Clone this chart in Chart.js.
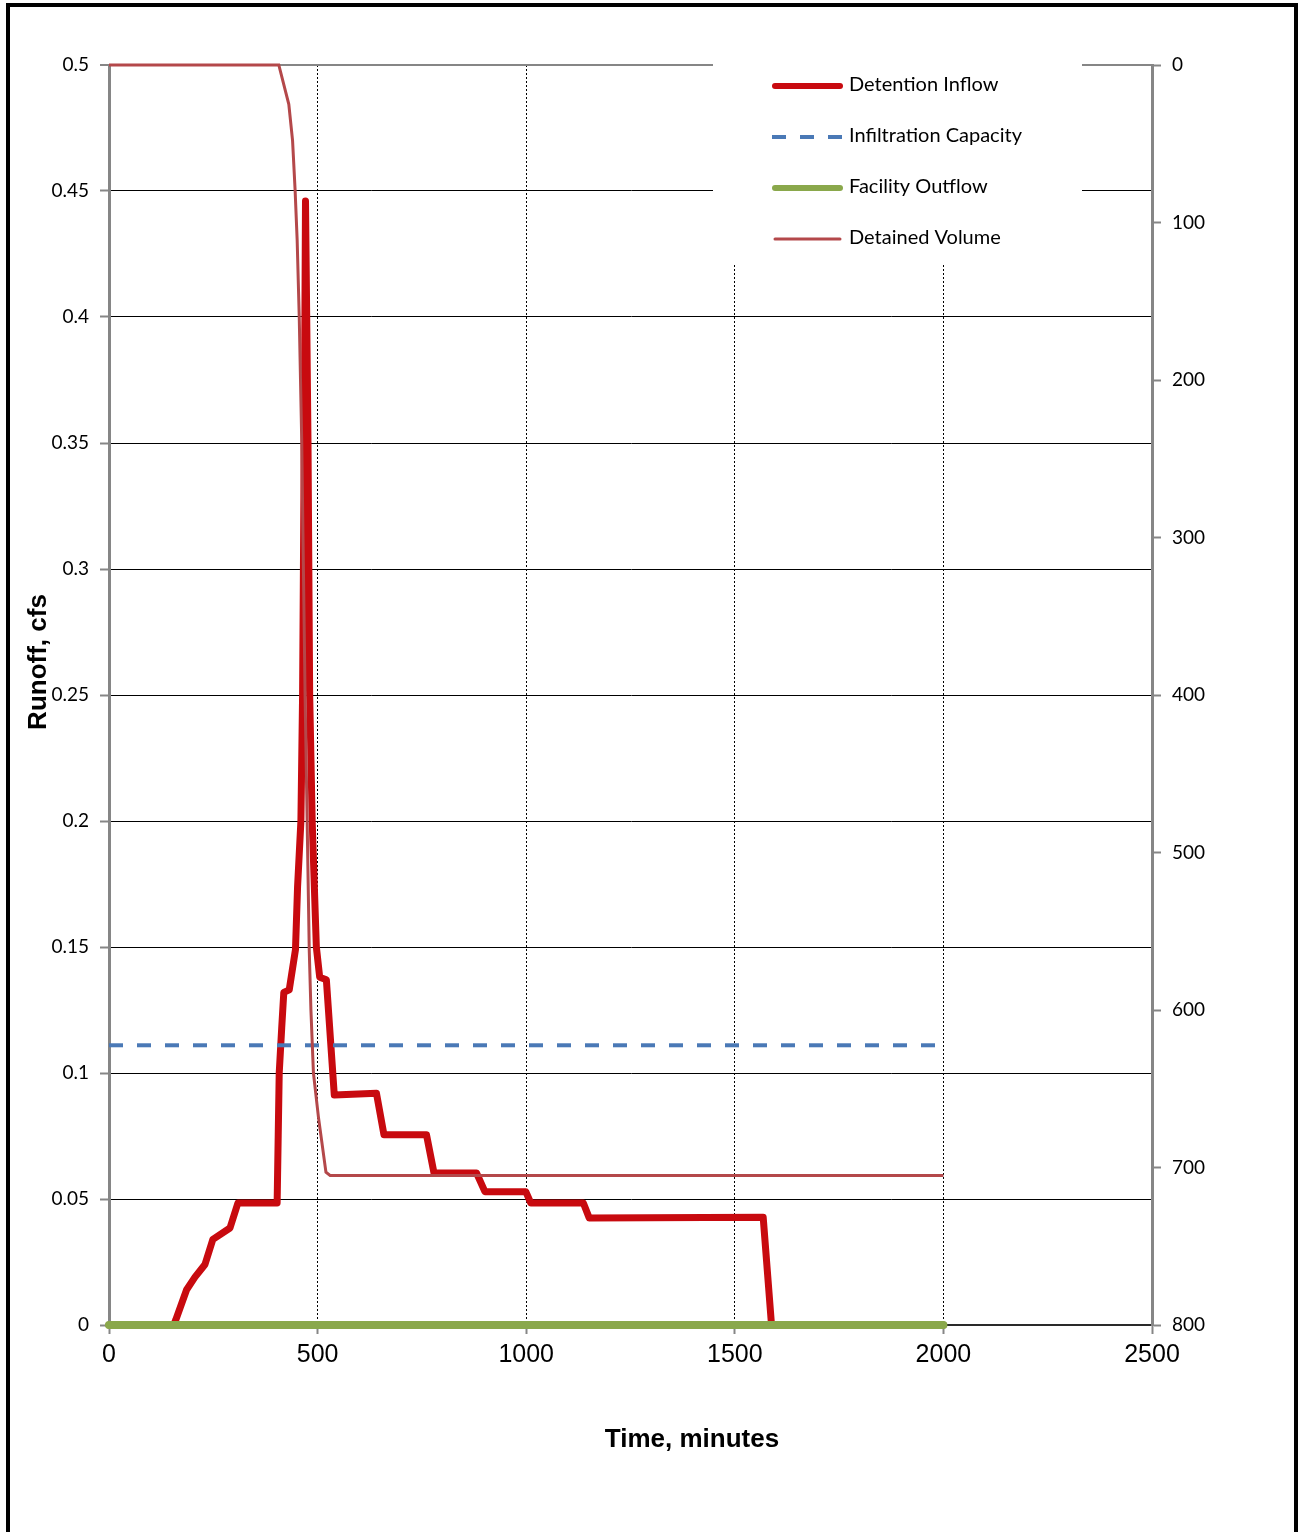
<!DOCTYPE html>
<html>
<head>
<meta charset="utf-8">
<title>Runoff</title>
<script src="https://cdn.jsdelivr.net/npm/chart.js@4.4.1/dist/chart.umd.min.js"></script>
<style>
    html, body { margin: 0; padding: 0; background: #fff; }
    #wrap { width: 1298px; height: 1532px; }
</style>
</head>
<body>
<div id="wrap"><canvas id="runoffChart" width="1298" height="1532"></canvas></div>
<script>
// values
const inflowTime = [0, 155, 160, 186, 206, 230, 249, 290, 309, 403, 408, 414, 419, 432, 447, 452, 460, 464, 468, 471, 477, 481, 487, 497, 505, 521, 540, 641, 659, 761, 779, 881, 901, 999, 1011, 1137, 1151, 1568, 1588, 2000];
const inflowCfs = [0, 0, 0.002, 0.014, 0.019, 0.024, 0.034, 0.0385, 0.0484, 0.0484, 0.1, 0.118, 0.132, 0.133, 0.149, 0.174, 0.2, 0.25, 0.35, 0.446, 0.35, 0.25, 0.2, 0.15, 0.138, 0.137, 0.0913, 0.092, 0.0755, 0.0755, 0.0603, 0.0603, 0.0529, 0.0529, 0.0484, 0.0484, 0.0425, 0.0428, 0, 0];

const infilTime = [0, 2000];
const infilCfs = [0.111, 0.111];

const outflowTime = [0, 2000];
const outflowCfs = [0, 0];

const volumeTime = [0, 407, 431, 440, 446, 451, 456, 462, 470, 475, 480, 484, 490, 502, 520, 530, 2000];
const volumeValues = [0, 0, 25, 48, 79, 111, 160, 239, 400, 481, 562, 600, 640, 668, 703, 705, 705];

const xTickLabels = ['0', '500', '1000', '1500', '2000', '2500'];
const leftTickLabels = ['0', '0.05', '0.1', '0.15', '0.2', '0.25', '0.3', '0.35', '0.4', '0.45', '0.5'];
const rightTickLabels = ['0', '100', '200', '300', '400', '500', '600', '700', '800'];

function toPoints(xs, ys) {
    return xs.map((x, i) => ({ x: x, y: ys[i] }));
}

const axisGray = '#868686';
const legendBox = { left: 713, top: 65, right: 1082, bottom: 265 };

// white box behind the legend, over the grid
const legendPlugin = {
    id: 'boxLegend',
    beforeDatasetsDraw(chart) {
        const ctx = chart.ctx;
        ctx.save();
        ctx.fillStyle = '#fff';
        ctx.fillRect(legendBox.left, legendBox.top - 2, legendBox.right - legendBox.left, legendBox.bottom - legendBox.top + 2);
        ctx.restore();
    },
    afterDatasetsDraw(chart) {
        const ctx = chart.ctx;
        const rows = [86, 137, 188, 239];
        ctx.save();
        chart.data.datasets.forEach((ds, i) => {
            const y = rows[i];
            ctx.beginPath();
            ctx.strokeStyle = ds.borderColor;
            ctx.lineWidth = Math.min(ds.borderWidth, 6);
            ctx.lineCap = ds.borderDash ? 'butt' : 'round';
            ctx.setLineDash(ds.borderDash || []);
            ctx.moveTo(ds.borderDash ? 772 : 775, y);
            ctx.lineTo(ds.borderDash ? 842 : 840, y);
            ctx.stroke();
            ctx.setLineDash([]);
            ctx.fillStyle = '#000';
            ctx.font = '20px Lato';
            ctx.textBaseline = 'middle';
            ctx.textAlign = 'left';
            ctx.fillText(ds.label, 849, y - 1);
        });
        ctx.restore();
    }
};

// axis titles and outer frame
const framePlugin = {
    id: 'frameTitles',
    afterDraw(chart) {
        const ctx = chart.ctx;
        ctx.save();
        ctx.fillStyle = '#000';
        ctx.font = 'bold 26px "Liberation Sans"';
        ctx.textAlign = 'center';
        ctx.textBaseline = 'middle';
        ctx.fillText('Time, minutes', 692, 1440);
        ctx.translate(39, 662);
        ctx.rotate(-Math.PI / 2);
        ctx.fillText('Runoff, cfs', 0, 0);
        ctx.restore();

        ctx.save();
        ctx.strokeStyle = '#000';
        ctx.lineWidth = 4;
        ctx.strokeRect(8, 5, 1288, 1600);
        ctx.restore();
    }
};

const ctxRunoff = document.getElementById('runoffChart').getContext('2d');
const runoffChart = new Chart(ctxRunoff, {
    type: 'line',
    data: {
        datasets: [
            {
                label: 'Detention Inflow',
                data: toPoints(inflowTime, inflowCfs),
                borderColor: '#C80A0F',
                borderWidth: 7,
                borderJoinStyle: 'round',
                borderCapStyle: 'round',
                yAxisID: 'y',
                clip: false,
                order: 4
            },
            {
                label: 'Infiltration Capacity',
                data: toPoints(infilTime, infilCfs),
                borderColor: '#4A79B6',
                borderWidth: 4,
                borderDash: [14, 14],
                yAxisID: 'y',
                clip: false,
                order: 3
            },
            {
                label: 'Facility Outflow',
                data: toPoints(outflowTime, outflowCfs),
                borderColor: '#8AA84B',
                borderWidth: 8,
                borderCapStyle: 'round',
                yAxisID: 'y',
                clip: false,
                order: 2
            },
            {
                label: 'Detained Volume',
                data: toPoints(volumeTime, volumeValues),
                borderColor: '#B4484A',
                borderWidth: 3,
                yAxisID: 'y2',
                clip: false,
                order: 1
            }
        ]
    },
    options: {
        responsive: false,
        animation: false,
        elements: {
            point: { radius: 0 },
            line: { tension: 0, fill: false }
        },
        layout: { padding: { left: 0, top: 65, right: 0, bottom: 147 } },
        plugins: {
            legend: { display: false },
            tooltip: { enabled: false }
        },
        scales: {
            x: {
                type: 'linear',
                min: 0,
                max: 2500,
                ticks: {
                    stepSize: 500,
                    color: '#000',
                    padding: 6,
                    font: { family: '"Liberation Sans"', size: 25 },
                    callback: v => xTickLabels[Math.round(v / 500)]
                },
                grid: {
                    color: c => (c.tick && (c.tick.value === 0 || c.tick.value === 2500)) ? 'rgba(0,0,0,0)' : '#000',
                    lineWidth: 1,
                    tickColor: axisGray,
                    tickWidth: 2,
                    tickLength: 9,
                    tickBorderDash: []
                },
                border: { color: '#2a2a2a', width: 2, dash: [2, 2] },
                afterFit: s => { s.height = 60; }
            },
            y: {
                position: 'left',
                min: 0,
                max: 0.5,
                ticks: {
                    stepSize: 0.05,
                    color: '#000',
                    padding: 11,
                    font: { family: 'Lato', size: 19 },
                    callback: v => leftTickLabels[Math.round(v / 0.05)]
                },
                grid: {
                    color: c => {
                        if (!c.tick) return '#000';
                        if (c.tick.value === 0) return 'rgba(0,0,0,0)';
                        if (Math.abs(c.tick.value - 0.5) < 1e-9) return axisGray;
                        return '#000';
                    },
                    lineWidth: c => (c.tick && Math.abs(c.tick.value - 0.5) < 1e-9) ? 2 : 1,
                    tickColor: axisGray,
                    tickWidth: 2,
                    tickLength: 9
                },
                border: { color: axisGray, width: 3 },
                afterFit: s => { s.width = 109; }
            },
            y2: {
                position: 'right',
                reverse: true,
                min: 0,
                max: 800,
                ticks: {
                    stepSize: 100,
                    color: '#000',
                    padding: 11,
                    font: { family: 'Lato', size: 19 },
                    callback: v => rightTickLabels[Math.round(v / 100)]
                },
                grid: {
                    drawOnChartArea: false,
                    tickColor: axisGray,
                    tickWidth: 2,
                    tickLength: 9
                },
                border: { color: axisGray, width: 3 },
                afterFit: s => { s.width = 146; }
            }
        }
    },
    plugins: [legendPlugin, framePlugin]
});
</script>
</body>
</html>
